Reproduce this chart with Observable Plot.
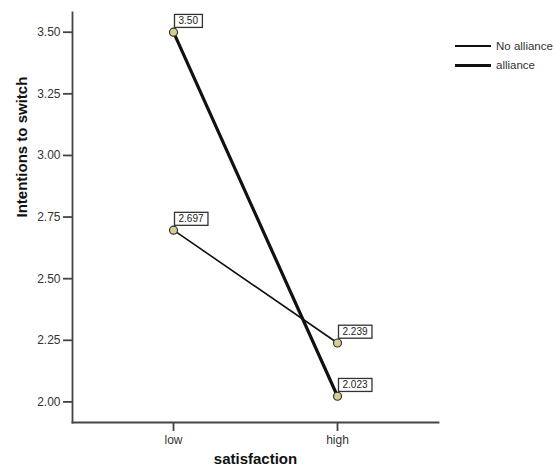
<!DOCTYPE html>
<html>
<head>
<meta charset="utf-8">
<script src="https://cdn.jsdelivr.net/npm/d3@7"></script>
<script src="https://cdn.jsdelivr.net/npm/@observablehq/plot@0.6"></script>
<style>
  html, body { margin: 0; padding: 0; background: #fff; }
  #wrap { position: relative; width: 555px; height: 474px; overflow: hidden; }
  #wrap svg g[aria-label$="axis tick"] { stroke-width: 1.8px !important; stroke: #444 !important; }
  #wrap svg g[aria-label$="tick label"] { font-size: 12px !important; fill: #333; }
  #wrap svg line[aria-label="frame"] { stroke-width: 1.8px !important; stroke: #444 !important; }
  #legend { position: absolute; left: 455px; top: 36px; font: 11.5px "Liberation Sans", Arial, sans-serif; color: #333; }
  #legend .row { display: flex; align-items: center; height: 19.5px; white-space: nowrap; }
  #legend .sw { width: 36px; margin-right: 5px; background: #000; }
</style>
</head>
<body>
<div id="wrap"></div>
<script>
// ---- data ----
const categories = ["low", "high"];
const seriesNames = ["No alliance", "alliance"];
const noAllianceValues = [2.697, 2.239];
const allianceValues = [3.50, 2.023];
const noAllianceLabels = ["2.697", "2.239"];
const allianceLabels = ["3.50", "2.023"];
const yTicks = [2.00, 2.25, 2.50, 2.75, 3.00, 3.25, 3.50];
const yDomain = [1.9165, 3.58];
const xTitle = "satisfaction";
const yTitle = "Intentions to switch";

const rows = [];
categories.forEach((c, i) => {
  rows.push({series: seriesNames[0], x: c, y: noAllianceValues[i], label: noAllianceLabels[i]});
  rows.push({series: seriesNames[1], x: c, y: allianceValues[i], label: allianceLabels[i]});
});
const widthBySeries = {"No alliance": 1.6, "alliance": 3.2};

const chart = Plot.plot({
  width: 555,
  height: 474,
  marginLeft: 72,
  marginRight: 117,
  marginTop: 12,
  marginBottom: 52,
  style: {fontFamily: "'Liberation Sans', Arial, sans-serif", fontSize: "12px", color: "#333", background: "#fff", overflow: "visible"},
  x: {type: "point", domain: categories, padding: 0.61, label: null, tickSize: 9, tickPadding: 4, line: true},
  y: {domain: yDomain, ticks: yTicks, tickFormat: d3.format(".2f"), tickSize: 9, tickPadding: 3, label: null, line: true},
  marks: [
    ...seriesNames.map(s => Plot.line(rows.filter(d => d.series === s), {x: "x", y: "y", stroke: "#111", strokeWidth: widthBySeries[s]})),
    Plot.dot(rows, {x: "x", y: "y", r: 4, fill: "#d6cf8e", stroke: "#333", strokeWidth: 1.2}),
    Plot.text(rows, {x: "x", y: "y", text: "label", textAnchor: "start", dx: 5, dy: -11, fontSize: 10, fill: "#222", className: "value-label"}),
    Plot.text([yTitle], {frameAnchor: "left", dx: -50, rotate: -90, fontSize: 15, fontWeight: "bold", fill: "#111"}),
    Plot.text([xTitle], {frameAnchor: "bottom", dy: 41, fontSize: 15, fontWeight: "bold", fill: "#111"})
  ]
});
document.getElementById("wrap").appendChild(chart);

// boxes behind the value labels
const labelTexts = chart.querySelectorAll('.value-label text');
labelTexts.forEach(t => {
  const bb = t.getBBox();
  const r = document.createElementNS("http://www.w3.org/2000/svg", "rect");
  r.setAttribute("x", bb.x - 4);
  r.setAttribute("y", bb.y - 1);
  r.setAttribute("width", bb.width + 8);
  r.setAttribute("height", bb.height + 2);
  r.setAttribute("fill", "#fff");
  r.setAttribute("stroke", "#333");
  r.setAttribute("stroke-width", "1.3");
  const tr = t.getAttribute("transform");
  if (tr) r.setAttribute("transform", tr);
  t.parentNode.insertBefore(r, t);
});

// legend
const legend = document.createElement("div");
legend.id = "legend";
seriesNames.forEach(s => {
  const row = document.createElement("div");
  row.className = "row";
  const sw = document.createElement("span");
  sw.className = "sw";
  sw.style.height = widthBySeries[s] + "px";
  sw.style.background = "#111";
  const lab = document.createElement("span");
  lab.textContent = s;
  row.appendChild(sw);
  row.appendChild(lab);
  legend.appendChild(row);
});
document.getElementById("wrap").appendChild(legend);
</script>
</body>
</html>
